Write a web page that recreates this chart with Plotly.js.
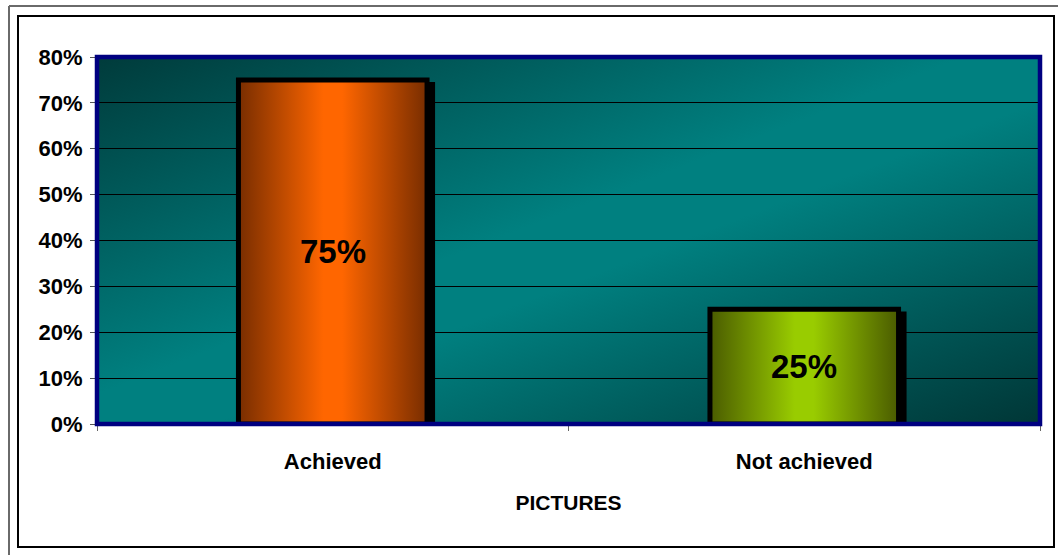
<!DOCTYPE html>
<html><head><meta charset="utf-8">
<script src="https://cdn.plot.ly/plotly-3.0.1.min.js"></script>
<style>html,body{margin:0;padding:0;background:#fff}#chart{width:1058px;height:555px}</style>
</head><body><div id="chart"></div>
<script>
// ---- data ----
const categories = ['Achieved', 'Not achieved'];
const values = [75, 25];
const yTickVals = [0, 10, 20, 30, 40, 50, 60, 70, 80];
const axisTitle = 'PICTURES';

// ---- geometry / style ----
const W = 1058, H = 555, L = 97, R = 18, T = 57, B = 131;
const pw = W - L - R, ph = H - T - B;
const px2x = p => (p - L) / pw;
const py2y = p => (H - B - p) / ph;
const FONT = 'Liberation Sans, Arial, Helvetica, sans-serif';
const half = 0.2;
const gradients = [
  [[0, '#782d00'], [0.45, '#ff6600'], [0.55, '#ff6600'], [1, '#782d00']],
  [[0, '#4a5b00'], [0.45, '#99cc00'], [0.55, '#99cc00'], [1, '#4a5b00']]
];
const idx = categories.map((c, i) => i);

const traces = [];
// drop shadow behind each bar
traces.push({
  type: 'bar', x: idx, y: values.map(v => v - 0.45), width: 0.4, offset: -0.2 + 0.017,
  marker: {color: '#000', line: {width: 0}}, hoverinfo: 'skip', showlegend: false
});
// gradient bars
categories.forEach((c, i) => {
  const v = values[i];
  traces.push({
    type: 'scatter', mode: 'lines',
    x: [i - half, i + half, i + half, i - half, i - half],
    y: [0, 0, v, v, 0],
    fill: 'toself', fillcolor: gradients[i][1][1],
    fillgradient: {type: 'horizontal', colorscale: gradients[i]},
    line: {color: '#000', width: 5}, hoverinfo: 'skip', showlegend: false
  });
});

// value labels as annotations at bar middles
const valueAnnotations = values.map((v, i) => ({
  x: i, y: v / 2, xref: 'x', yref: 'y', text: v + '%', showarrow: false,
  yshift: 0, font: {family: FONT, size: 33, color: '#000', weight: 700}
}));

const svg = "<svg xmlns='http://www.w3.org/2000/svg' width='943' height='367' viewBox='0 0 943 367' preserveAspectRatio='none'>" +
  "<defs><linearGradient id='g' x1='0' y1='0' x2='1' y2='1'>" +
  "<stop offset='0' stop-color='#003b3b'/><stop offset='0.46' stop-color='#008080'/>" +
  "<stop offset='0.56' stop-color='#008080'/><stop offset='1' stop-color='#003636'/>" +
  "</linearGradient></defs><rect x='0' y='0' width='943' height='367' fill='url(#g)'/></svg>";

const layout = {
  width: W, height: H,
  margin: {l: L, r: R, t: T, b: B, pad: 0},
  paper_bgcolor: '#ffffff', plot_bgcolor: '#008080',
  showlegend: false, barmode: 'overlay',
  font: {family: FONT, color: '#000'},
  xaxis: {
    range: [-0.5, 1.5], tickmode: 'array', tickvals: idx, ticktext: categories,
    ticks: '', showgrid: false, zeroline: false, showline: false,
    tickfont: {family: FONT, size: 22, color: '#000', weight: 700},
    ticklabelstandoff: 22,
    minor: {tickvals: [-0.5, 0.5, 1.5], ticks: 'outside', ticklen: 6, tickcolor: '#666', tickwidth: 1, showgrid: false},
    title: {text: axisTitle, font: {family: FONT, size: 21, color: '#000', weight: 700}, standoff: 22},
    fixedrange: true
  },
  yaxis: {
    range: [0, 80], tickmode: 'array', tickvals: yTickVals, ticktext: yTickVals.map(v => v + '%'),
    ticks: 'outside', ticklen: 6, tickcolor: '#555', tickwidth: 1,
    showgrid: true, gridcolor: '#000', gridwidth: 1, zeroline: false, showline: false,
    tickfont: {family: FONT, size: 22, color: '#000', weight: 700},
    ticklabelstandoff: 3,
    fixedrange: true
  },
  annotations: valueAnnotations,
  images: [{
    source: 'data:image/svg+xml;charset=utf-8,' + encodeURIComponent(svg),
    xref: 'paper', yref: 'paper', x: 0, y: 1, sizex: 1, sizey: 1,
    xanchor: 'left', yanchor: 'top', sizing: 'stretch', layer: 'below'
  }],
  shapes: [
    {type: 'rect', xref: 'paper', yref: 'paper', x0: 0, x1: 1, y0: 0, y1: 1,
     line: {color: '#000080', width: 4.5}, fillcolor: 'rgba(0,0,0,0)', layer: 'above'},
    {type: 'rect', xref: 'paper', yref: 'paper', x0: px2x(18), x1: px2x(1054), y0: py2y(547), y1: py2y(16),
     line: {color: '#000', width: 2}, fillcolor: 'rgba(0,0,0,0)', layer: 'above'},
    {type: 'line', xref: 'paper', yref: 'paper', x0: px2x(9), x1: px2x(1058), y0: py2y(6), y1: py2y(6),
     line: {color: '#6a6a6a', width: 2}},
    {type: 'line', xref: 'paper', yref: 'paper', x0: px2x(9), x1: px2x(9), y0: py2y(6), y1: py2y(555),
     line: {color: '#6a6a6a', width: 2}}
  ]
};

Plotly.newPlot('chart', traces, layout, {displayModeBar: false, staticPlot: true});
</script>
</body></html>
